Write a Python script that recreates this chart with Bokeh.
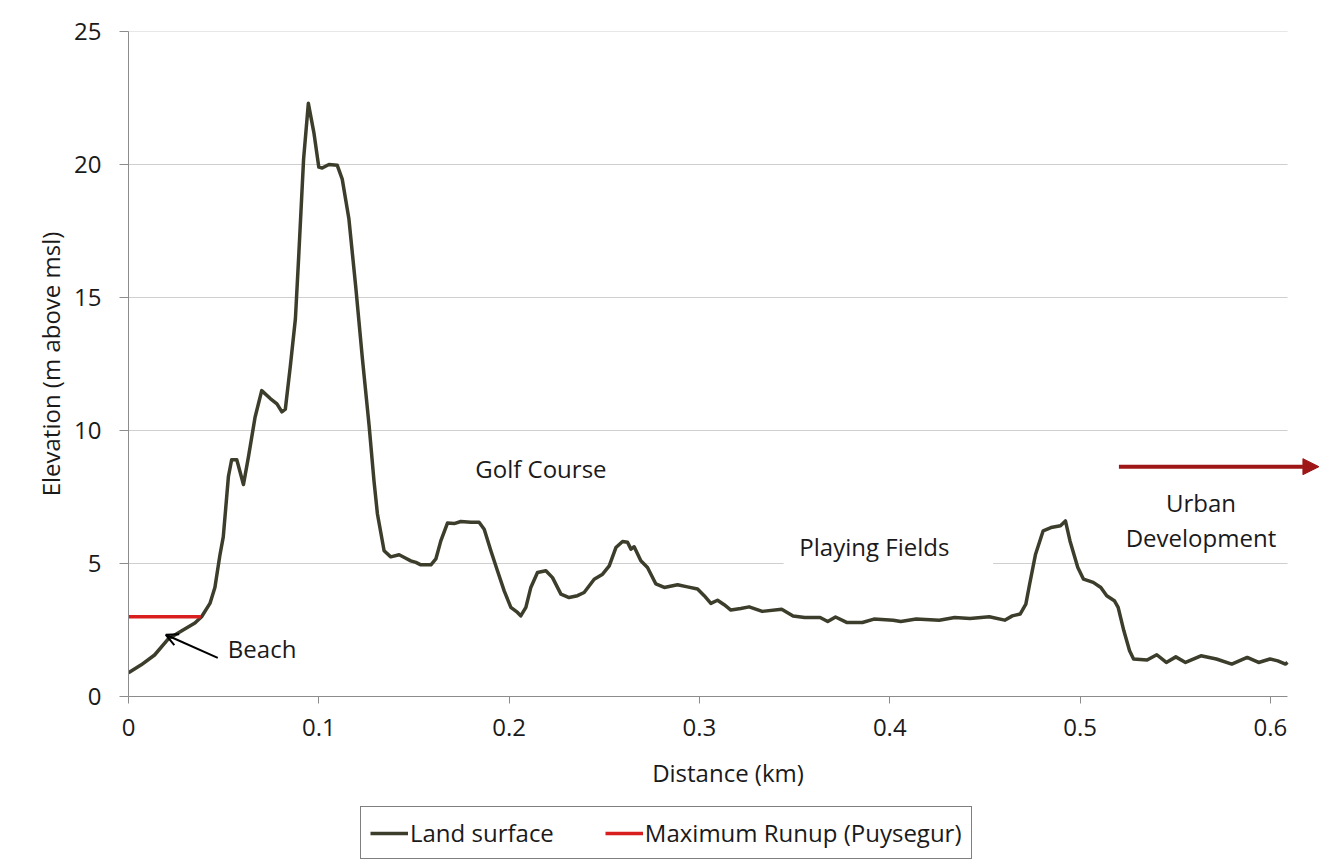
from bokeh.plotting import figure
from bokeh.layouts import column
from bokeh.models import (Range1d, Legend, LegendItem, Arrow, NormalHead, OpenHead,
                          Label, FixedTicker)
from bokeh.embed import file_html
from bokeh.resources import INLINE

# ---- data ----
dist_km = [
    0.0000, 0.0067, 0.0137, 0.0208, 0.0278, 0.0349, 0.0384, 0.0428, 0.0454, 0.0480,
    0.0498, 0.0525, 0.0542, 0.0569, 0.0604, 0.0630, 0.0665, 0.0700, 0.0745, 0.0780,
    0.0806, 0.0824, 0.0850, 0.0877, 0.0894, 0.0920, 0.0945, 0.0974, 0.1000, 0.1018,
    0.1053, 0.1097, 0.1123, 0.1158, 0.1194, 0.1229, 0.1264, 0.1290, 0.1308, 0.1343,
    0.1378, 0.1422, 0.1457, 0.1483, 0.1510, 0.1536, 0.1589, 0.1615, 0.1641, 0.1676,
    0.1711, 0.1746, 0.1799, 0.1842, 0.1869, 0.1904, 0.1939, 0.1974, 0.2009, 0.2044,
    0.2061, 0.2088, 0.2114, 0.2149, 0.2193, 0.2228, 0.2272, 0.2315, 0.2359, 0.2394,
    0.2447, 0.2491, 0.2526, 0.2561, 0.2596, 0.2622, 0.2640, 0.2657, 0.2692, 0.2727,
    0.2771, 0.2815, 0.2885, 0.2937, 0.2990, 0.3025, 0.3060, 0.3095, 0.3130, 0.3165,
    0.3217, 0.3261, 0.3330, 0.3432, 0.3492, 0.3553, 0.3634, 0.3674, 0.3715, 0.3776,
    0.3856, 0.3917, 0.4018, 0.4058, 0.4139, 0.4260, 0.4341, 0.4422, 0.4523, 0.4604,
    0.4644, 0.4685, 0.4715, 0.4735, 0.4766, 0.4806, 0.4847, 0.4897, 0.4923, 0.4947,
    0.4988, 0.5018, 0.5069, 0.5109, 0.5140, 0.5180, 0.5200, 0.5230, 0.5260, 0.5281,
    0.5352, 0.5403, 0.5453, 0.5503, 0.5554, 0.5635, 0.5716, 0.5797, 0.5878, 0.5938,
    0.5998, 0.6039, 0.6079, 0.6090,
]
elev_m = [
    0.89, 1.19, 1.56, 2.16, 2.46, 2.76, 3.00, 3.50, 4.10, 5.30,
    6.00, 8.27, 8.90, 8.90, 7.97, 9.00, 10.50, 11.50, 11.20, 11.00,
    10.70, 10.80, 12.40, 14.20, 16.50, 20.20, 22.30, 21.20, 19.90, 19.87,
    20.00, 19.97, 19.45, 17.96, 15.40, 12.70, 10.20, 8.10, 6.86, 5.48,
    5.25, 5.33, 5.20, 5.10, 5.04, 4.95, 4.95, 5.17, 5.85, 6.52,
    6.50, 6.58, 6.55, 6.55, 6.29, 5.48, 4.72, 3.97, 3.35, 3.16,
    3.03, 3.35, 4.10, 4.66, 4.73, 4.47, 3.85, 3.72, 3.79, 3.91,
    4.41, 4.60, 4.91, 5.60, 5.83, 5.80, 5.54, 5.63, 5.10, 4.85,
    4.23, 4.10, 4.20, 4.12, 4.04, 3.79, 3.50, 3.62, 3.45, 3.25,
    3.31, 3.37, 3.20, 3.28, 3.03, 2.97, 2.97, 2.82, 2.99, 2.78,
    2.78, 2.91, 2.87, 2.82, 2.91, 2.87, 2.97, 2.93, 3.00, 2.87,
    3.03, 3.10, 3.47, 4.23, 5.35, 6.23, 6.35, 6.42, 6.60, 5.85,
    4.85, 4.41, 4.29, 4.10, 3.79, 3.60, 3.35, 2.47, 1.72, 1.41,
    1.37, 1.57, 1.28, 1.49, 1.28, 1.53, 1.41, 1.22, 1.47, 1.28,
    1.41, 1.34, 1.22, 1.28,
]
runup_x = [0.0, 0.038]
runup_y = [3.0, 3.0]

x_ticks = [0.0, 0.1, 0.2, 0.3, 0.4, 0.5, 0.6]
x_tick_labels = ["0", "0.1", "0.2", "0.3", "0.4", "0.5", "0.6"]
y_ticks = [0, 5, 10, 15, 20, 25]
x_axis_end = 0.609

series_names = ["Land surface", "Maximum Runup (Puysegur)"]

FONT = "Open Sans"
TXT = "#1a1a1a"
GRID = "#cfcfcf"
AXIS = "#8c8c8c"
LAND_COLOR = "#3d3d2c"
RUNUP_COLOR = "#d81e1e"

p = figure(frame_width=1199, frame_height=665,
           x_range=Range1d(0, 0.63), y_range=Range1d(0, 25),
           output_backend="svg", toolbar_location=None,
           min_border_left=128, min_border_right=2, min_border_top=31,
           min_border_bottom=0, background_fill_color="white",
           border_fill_color="white")
p.outline_line_color = None

# axes
for ax in (p.xaxis[0], p.yaxis[0]):
    ax.axis_line_color = AXIS
    ax.major_tick_line_color = AXIS
    ax.minor_tick_line_color = None
    ax.major_tick_in = 0
    ax.major_label_text_font = FONT
    ax.major_label_text_font_size = "24px"
    ax.major_label_text_color = TXT
    ax.axis_label_text_font = FONT
    ax.axis_label_text_font_size = "24px"
    ax.axis_label_text_font_style = "normal"
    ax.axis_label_text_color = TXT

p.xaxis.ticker = FixedTicker(ticks=x_ticks)
p.xaxis.bounds = (0, x_axis_end)
p.xaxis.major_label_overrides = {t: l for t, l in zip(x_ticks, x_tick_labels)}
p.xaxis.major_tick_out = 7
p.xaxis.major_label_standoff = 15
p.xaxis.axis_label = "Distance (km)"
p.xaxis.axis_label_standoff = 17

p.yaxis.ticker = FixedTicker(ticks=y_ticks)
p.yaxis.major_tick_out = 9
p.yaxis.major_label_standoff = 18
p.yaxis.axis_label = "Elevation (m above msl)"
p.yaxis.axis_label_standoff = 4

p.xgrid.grid_line_color = None
p.ygrid.grid_line_color = None

# horizontal gridlines, ending where the x axis ends
gy = y_ticks[1:]
p.segment(x0=[0] * len(gy), x1=[x_axis_end] * len(gy), y0=gy, y1=gy,
          line_color=GRID, line_width=1)

# white box behind "Playing Fields"
p.quad(left=[0.3442], right=[0.4543], bottom=[4.7], top=[6.4],
       fill_color="white", line_color=None)

p.line(dist_km, elev_m, line_color=LAND_COLOR, line_width=3.5, line_join="round")
p.line(runup_x, runup_y, line_color=RUNUP_COLOR, line_width=3.5)

# annotations
def lab(x, y, text, align="center"):
    p.add_layout(Label(x=x, y=y, text=text, text_font=FONT, text_font_size="24px",
                       text_color=TXT, text_align=align, text_baseline="middle"))

lab(0.2167, 8.56, "Golf Course")
lab(0.3919, 5.63, "Playing Fields")
lab(0.5635, 7.28, "Urban")
lab(0.5635, 5.96, "Development")
lab(0.0522, 1.79, "Beach", align="left")

p.add_layout(Arrow(x_start=0.0469, y_start=1.45, x_end=0.0196, y_end=2.32,
                   line_color="black", line_width=2,
                   end=OpenHead(size=12, line_color="black", line_width=2)))
p.add_layout(Arrow(x_start=0.5204, y_start=8.64, x_end=0.6255, y_end=8.64,
                   line_color="#9e1616", line_width=4,
                   end=NormalHead(size=16, fill_color="#9e1616",
                                  line_color="#9e1616")))

# ---- legend strip below the chart ----
LEG_H = 70
NAN = float("nan")
lp = figure(width=1329, height=LEG_H, x_range=Range1d(0, 1), y_range=Range1d(0, 1),
            output_backend="svg", toolbar_location=None,
            x_axis_location=None, y_axis_location=None,
            min_border=0, border_fill_color="white", background_fill_color="white")
lp.outline_line_color = None
lp.xgrid.grid_line_color = None
lp.ygrid.grid_line_color = None
# legend-key renderers (no visible data; they only supply the key samples)
k_land = lp.line(x=[NAN], y=[NAN], line_color=LAND_COLOR, line_width=3.5)
k_run = lp.line(x=[NAN], y=[NAN], line_color=RUNUP_COLOR, line_width=3.5)

legend = Legend(items=[LegendItem(label=series_names[0], renderers=[k_land]),
                       LegendItem(label=series_names[1], renderers=[k_run])],
                orientation="horizontal", location=(232, 2))
legend.label_text_font = FONT
legend.label_text_font_size = "24px"
legend.label_text_color = TXT
legend.glyph_width = 38
legend.glyph_height = 20
legend.label_standoff = 2
legend.spacing = 51
legend.padding = 9
legend.margin = 0
legend.border_line_color = "black"
legend.border_line_width = 1
legend.background_fill_color = "white"
legend.background_fill_alpha = 1
lp.add_layout(legend)

layout = column(p, lp, spacing=0)
open("out.html", "w").write(file_html(layout, INLINE))
